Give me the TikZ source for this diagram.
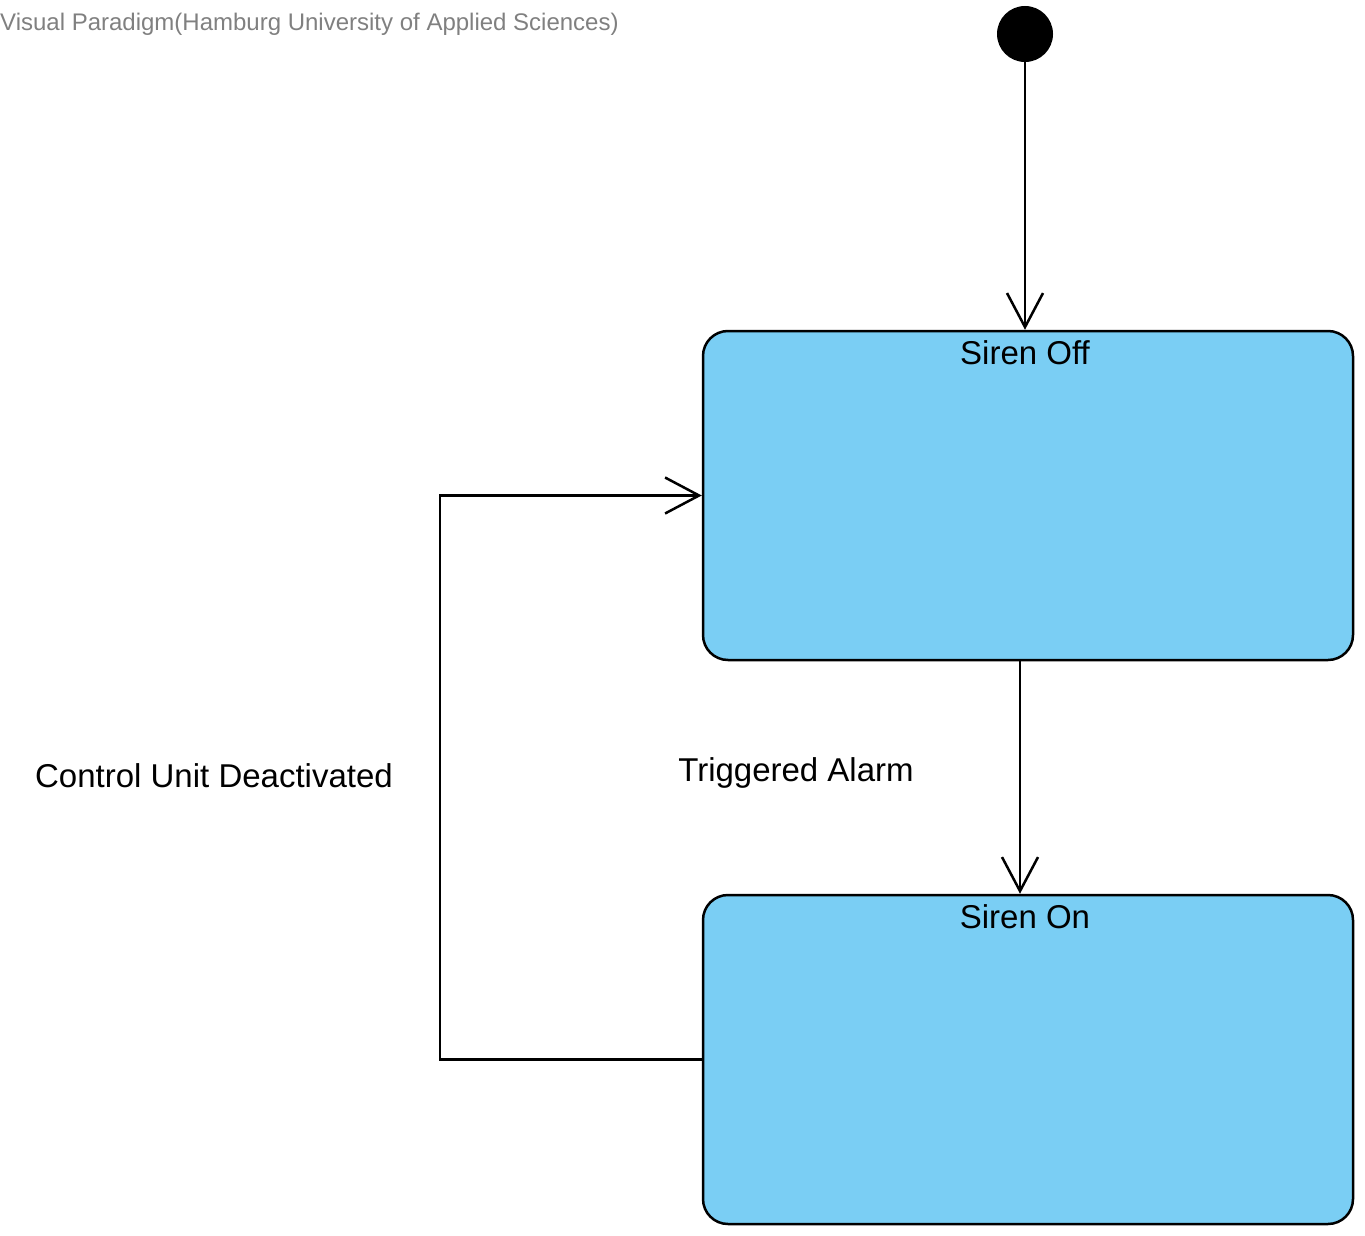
\documentclass[tikz,border=0pt]{standalone}
\usepackage{fontspec}
\setmainfont{Liberation Sans}
\usetikzlibrary{arrows.meta,positioning}
\definecolor{statefill}{HTML}{7ACEF4}
\definecolor{vpgrey}{HTML}{808080}
\begin{document}
\begin{tikzpicture}[x=1pt,y=-1pt,
    state/.style={draw,line width=2.5pt,fill=statefill,rounded corners=25pt,
        minimum width=650pt,minimum height=329pt,inner sep=0pt},
    trans/.style={line width=2.5pt,-{Straight Barb[length=34pt,width=36pt,line width=2.5pt]}},
    lbl/.style={font=\fontsize{33}{38}\selectfont,inner sep=0pt}]
        \useasboundingbox (0,0) rectangle (1365,1236);
        \node[font=\fontsize{24}{28}\selectfont,text=vpgrey,anchor=base west,inner sep=0pt]
            (title) at (0,31) {Visual Paradigm(Hamburg University of Applied Sciences)};
        \node[circle,fill=black,minimum size=56pt,inner sep=0pt] (init) at (1025,34) {};
        \node[state] (off) at (1028,495.5) {};
        \node[lbl,anchor=base] (offname) at ([xshift=-3pt,yshift=-35pt]off.north) {Siren Off};
        \node[state] (on) at (1028,1059.5) {};
        \node[lbl,anchor=base] (onname) at ([xshift=-3pt,yshift=-35pt]on.north) {Siren On};
        \draw[trans] (init) -- (init |- off.north);
        \draw[trans] ([xshift=-8pt]off.south) -- ([xshift=-8pt]on.north);
        \node[lbl,anchor=base] (trig) at (796,781) {Triggered Alarm};
        \draw[trans] (on.west) -- ++(-262,0) coordinate (corner) |- (off.west);
        \node[lbl,anchor=base] (deact) at (214,787) {Control Unit Deactivated};
    \end{tikzpicture}
\end{document}
